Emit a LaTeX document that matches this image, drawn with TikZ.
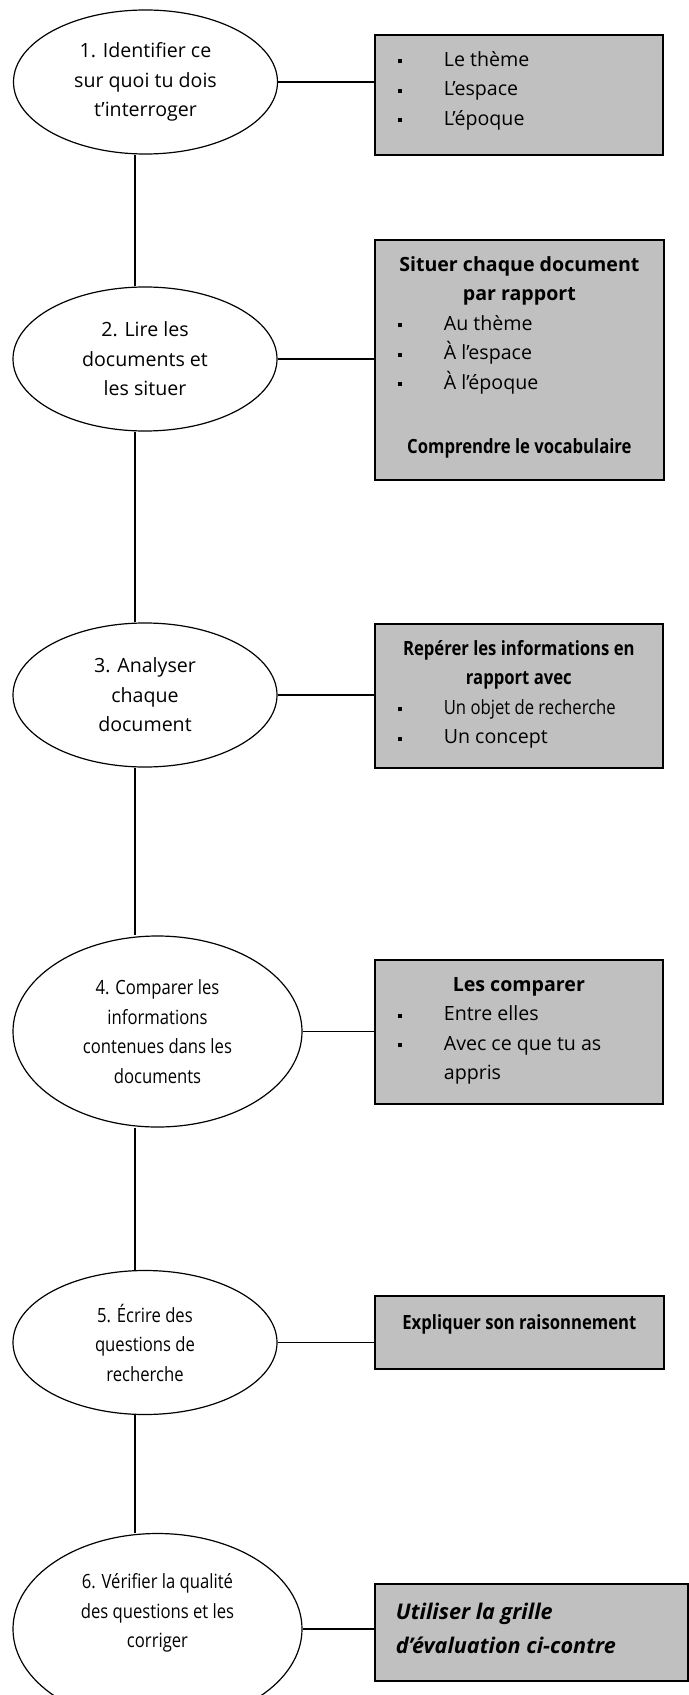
\documentclass[tikz,border=0pt]{standalone}
\usepackage{fontspec}
\setmainfont{Open Sans}
\newfontfamily\cond[FakeStretch=0.85]{Open Sans}
\usetikzlibrary{shapes.geometric}
\definecolor{grisfond}{HTML}{C0C0C0}
\newcommand{\taille}{\fontsize{9.8pt}{14.75pt}\selectfont}
\tikzstyle{etape}=[draw, ellipse, line width=0.6pt, inner sep=0pt, align=center, minimum width=132pt, minimum height=72pt]
\tikzstyle{grande}=[minimum width=144.5pt, minimum height=95.5pt]
\tikzstyle{etroit}=[font=\taille\cond]
\tikzstyle{cadre}=[draw, line width=0.85pt, fill=grisfond, inner sep=0pt, anchor=north west]
\tikzstyle{lien}=[line width=0.55pt]
\newcommand{\puce}[1]{\makebox[34.5pt][l]{\hspace*{11.4pt}\rule[1.5pt]{2.2pt}{2.2pt}}#1\par}
\newcommand{\suite}[1]{\hspace*{34.5pt}#1\par}
\newcommand{\haut}{\rule{0pt}{15.8pt}}

\begin{document}
\begin{tikzpicture}[x=0.5pt, y=-0.5pt, font=\taille]
  \useasboundingbox (0,0) rectangle (689,1695);
  \coordinate (axe) at (135,0);

  \node[etape] (e1) at (145.5,82) {1. Identifier ce\\sur quoi tu dois\\t’interroger};
  \node[etape] (e2) at (145,359) {2. Lire les\\documents et\\les situer};
  \node[etape] (e3) at (145,695) {3. Analyser\\chaque\\document};
  \node[etape, grande, etroit] (e4) at (157.5,1031.5) {4. Comparer les\\informations\\contenues dans les\\documents};
  \node[etape, etroit] (e5) at (145,1342.5) {5. Écrire des\\questions de\\recherche};
  \node[etape, grande, label={[align=center, etroit, yshift=8pt]center:{6. Vérifier la qualité\\des questions et les\\corriger}}] (e6) at (157.5,1629) {};

  \node[cadre] (b1) at (374,34) {\parbox[c][60pt][t]{144pt}{%
    \puce{\haut Le thème}\puce{L’espace}\puce{L’époque}}};
  \node[cadre] (b2) at (374,239) {\parbox[c][120pt][t]{144.5pt}{%
    \centering\bfseries\haut Situer chaque document\\par rapport\par
    \raggedright\mdseries\puce{Au thème}\puce{À l’espace}\puce{À l’époque}
    \vspace{17.5pt}{\centering\cond\bfseries Comprendre le vocabulaire\par}}};
  \node[cadre] (b3) at (374,623) {\parbox[c][72pt][t]{144pt}{%
    \centering\cond\bfseries\haut Repérer les informations en\\rapport avec\par
    \raggedright\normalfont\puce{{\cond Un objet de recherche}}\puce{Un concept}}};
  \node[cadre] (b4) at (374,959) {\parbox[c][72pt][t]{144pt}{%
    \centering\bfseries\haut Les comparer\par
    \raggedright\mdseries\puce{Entre elles}\puce{Avec ce que tu as}\suite{appris}}};
  \node[cadre] (b5) at (374,1295) {\parbox[c][36.5pt][t]{144.5pt}{%
    \centering\cond\bfseries\rule{0pt}{16.6pt}Expliquer son raisonnement}};
  \node[cadre] (b6) at (374,1583) {\parbox[c][48.5pt][t]{156.5pt}{%
    \fontsize{10.8pt}{17pt}\selectfont\bfseries\itshape\leftskip=10.5pt
    \rule{0pt}{17.9pt}Utiliser la grille\\d’évaluation ci-contre}};

  \foreach \a/\b in {e1/e2,e2/e3,e3/e4,e4/e5,e5/e6}
    \draw[lien] (\a.south -| axe) -- (\b.north -| axe);
  \foreach \i in {1,...,6}
    \draw[lien] (e\i.east) -- (e\i.east -| b\i.west);
\end{tikzpicture}
\end{document}
